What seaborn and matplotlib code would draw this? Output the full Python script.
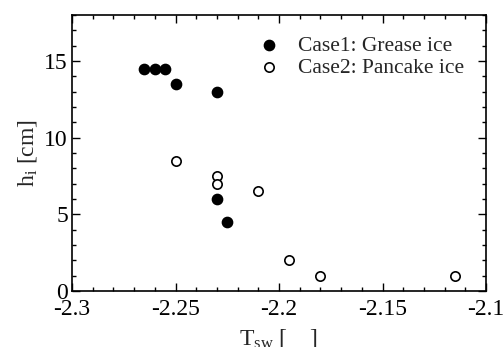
import matplotlib
matplotlib.use("Agg")
import matplotlib.pyplot as plt
import seaborn as sns
import pandas as pd
from matplotlib.ticker import MultipleLocator, FixedLocator, FixedFormatter

# Data
case1_T = [-2.265, -2.26, -2.255, -2.25, -2.23, -2.23, -2.225]
case1_h = [14.5, 14.5, 14.5, 13.5, 13.0, 6.0, 4.5]
case2_T = [-2.25, -2.23, -2.23, -2.21, -2.195, -2.18, -2.115]
case2_h = [8.5, 7.5, 7.0, 6.5, 2.0, 1.0, 1.0]
labels = ["Case1: Grease ice", "Case2: Pancake ice"]
xticks = [-2.3, -2.25, -2.2, -2.15, -2.1]
xticklabels = ["-2.3", "-2.25", "-2.2", "-2.15", "-2.1"]
yticks = [0, 5, 10, 15]

df1 = pd.DataFrame({"T": case1_T, "h": case1_h})
df2 = pd.DataFrame({"T": case2_T, "h": case2_h})

sns.set_style("ticks")
plt.rcParams["font.family"] = ["Liberation Serif", "DejaVu Serif"]
plt.rcParams["axes.unicode_minus"] = False
plt.rcParams["mathtext.fontset"] = "custom"
plt.rcParams["mathtext.rm"] = "Liberation Serif"
plt.rcParams["mathtext.it"] = "Liberation Serif"

fig = plt.figure(figsize=(5.03, 3.47), dpi=100)
ax = fig.add_axes([72/503, 1-291/347, (486-72)/503, (291-15)/347])

sns.scatterplot(data=df1, x="T", y="h", ax=ax, s=55, color="black",
                edgecolor="black", linewidth=1.0, label=labels[0], zorder=3)
sns.scatterplot(data=df2, x="T", y="h", ax=ax, s=45, facecolor="white",
                edgecolor="black", linewidth=1.2, label=labels[1], zorder=3)

ax.set_xlim(-2.3, -2.1)
ax.set_ylim(0, 18)
ax.xaxis.set_major_locator(FixedLocator(xticks))
ax.xaxis.set_major_formatter(FixedFormatter(xticklabels))
ax.xaxis.set_minor_locator(MultipleLocator(0.01))
ax.yaxis.set_major_locator(FixedLocator(yticks))
ax.yaxis.set_minor_locator(MultipleLocator(1))
ax.tick_params(which="both", direction="in", top=True, right=True,
               labelsize=17, colors="black", width=1.0)
ax.tick_params(axis="x", which="major", length=6, pad=6)
ax.tick_params(axis="y", which="major", length=6, pad=3)
ax.tick_params(which="minor", length=3)
for sp in ax.spines.values():
    sp.set_linewidth(1.2)
    sp.set_color("black")

ax.set_xlabel("T$_{sw}$ [    ]", fontsize=17, labelpad=5)
ax.set_ylabel("h$_{i}$ [cm]", fontsize=17, labelpad=4)

leg = ax.legend(loc="upper left", frameon=False, fontsize=15.5,
                handlelength=1.0, handletextpad=0.85, borderpad=0,
                borderaxespad=0, labelspacing=0.1,
                bbox_to_anchor=(0.45, 0.925))

fig.savefig("out.png", dpi=100)
